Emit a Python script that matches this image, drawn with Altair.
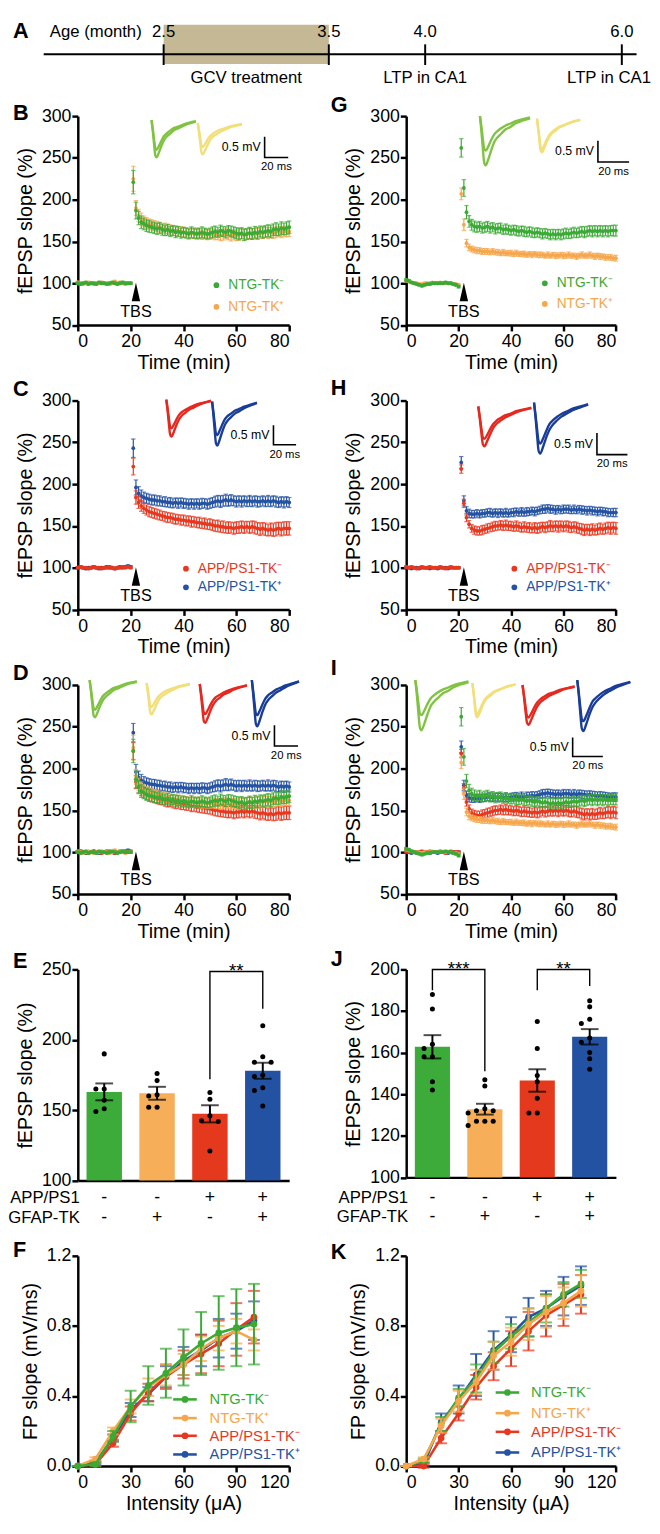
import altair as alt
import pandas as pd

FONT = "Liberation Sans"

GREEN = "#3aaa35"
ORANGE = "#f6a64c"
RED = "#e8371f"
BLUE = "#2453a3"
TR_GREEN = "#80c342"
TR_YELLOW = "#f2df7a"
TR_RED = "#e6281f"
TR_BLUE = "#1a3e98"
BAR_COLORS = ["#3cab3a", "#f6ae58", "#e4391c", "#2352a2"]
TAN = "#c4b994"

GROUPS = ["NTG-TK⁻", "NTG-TK⁺", "APP/PS1-TK⁻", "APP/PS1-TK⁺"]

# ---------------- Panel A : timeline (months) ----------------
A_MONTHS = [2.5, 3.5, 4.0, 6.0]
A_MONTH_LABELS = ["2.5", "3.5", "4.0", "6.0"]
A_GCV = [2.5, 3.5]
A_LINE = [2.05, 6.08]
A_EVENT_MONTHS = [3.0, 4.0, 6.0]
A_EVENT_LABELS = ["GCV treatment", "LTP in CA1", "LTP in CA1"]

# ---------------- LTP time courses (t = 0..80 min) ----------------
LTP_TIME = list(range(0, 81))
TBS_T = [22]
TBS_ARROW_V = [89.5]
TBS_TEXT_V = [66]

# 4 months
G4_BASE = [100, 99, 100, 101, 99, 100, 100, 99, 101, 100, 100, 99, 100, 101, 100, 99, 100, 101, 100, 100, 100]
G4_BASE_SEM = [1.5, 1.4, 1.3, 1.2, 1.3, 1.2, 1.4, 1.3, 1.2, 1.3, 1.2, 1.3, 1.4, 1.2, 1.3, 1.2, 1.3, 1.4, 1.2, 1.3, 1.2]
G4_POST = [221, 187, 178, 173, 171, 169, 168, 167, 166, 165,
           166, 164, 163, 164, 162, 163, 161, 162, 160, 161,
           160, 159, 161, 160, 159, 160, 161, 160, 159, 160,
           161, 162, 161, 163, 162, 161, 163, 162, 161, 160,
           159, 160, 158, 159, 160, 159, 161, 160, 162, 161,
           162, 163, 162, 164, 165, 164, 166, 165, 166, 167]
G4_POST_SEM = [14, 10, 8, 7.5, 7, 7, 7, 6.5, 6.5, 6.5,
               6.5, 6.5, 6, 6.5, 6, 6, 6.5, 6, 6, 6,
               6, 6, 6.5, 6, 6, 6, 6.5, 6, 6, 6,
               6.5, 6.5, 6, 6.5, 6, 6.5, 6, 6.5, 6.5, 6.5,
               7, 6.5, 7, 6.5, 7, 6.5, 7, 7, 6.5, 7,
               7, 7, 7.5, 7, 7.5, 7, 7.5, 7, 7.5, 7.5]

O4_BASE = [101, 100, 99, 100, 101, 100, 99, 100, 100, 101, 100, 100, 99, 100, 102, 100, 101, 100, 99, 100, 100]
O4_BASE_SEM = [1.6, 1.5, 1.4, 1.5, 1.3, 1.4, 1.5, 1.3, 1.4, 1.5, 1.4, 1.3, 1.5, 1.4, 1.6, 1.4, 1.3, 1.5, 1.4, 1.3, 1.4]
O4_POST = [225, 190, 181, 177, 174, 172, 171, 170, 169, 168,
           167, 166, 166, 165, 164, 163, 163, 162, 162, 161,
           161, 160, 160, 159, 160, 159, 158, 159, 158, 158,
           159, 158, 158, 157, 158, 159, 158, 157, 158, 157,
           158, 159, 158, 159, 160, 159, 160, 159, 160, 160,
           161, 160, 161, 160, 161, 162, 161, 162, 162, 162]
O4_POST_SEM = [15, 9, 7.5, 7, 6.5, 6.5, 6, 6, 6, 6,
               6, 5.5, 6, 5.5, 6, 5.5, 6, 5.5, 6, 6,
               5.5, 6, 6, 5.5, 6, 6, 5.5, 6, 6, 5.5,
               6, 6, 5.5, 6, 6.5, 6, 6, 6.5, 6, 6,
               6.5, 6, 6.5, 6, 6.5, 6.5, 6, 6.5, 6, 6.5,
               6, 6.5, 6, 6.5, 6.5, 6, 6.5, 6, 6.5, 6]

R4_BASE = [100, 101, 100, 100, 99, 100, 101, 100, 100, 99, 100, 100, 101, 100, 99, 100, 100, 101, 100, 101, 100]
R4_BASE_SEM = [1.4, 1.3, 1.5, 1.2, 1.3, 1.4, 1.3, 1.2, 1.4, 1.3, 1.2, 1.4, 1.3, 1.5, 1.3, 1.2, 1.4, 1.3, 1.2, 1.4, 1.3]
R4_POST = [221, 184, 178, 174, 171, 169, 167, 166, 165, 164,
           163, 162, 161, 160, 160, 159, 158, 158, 157, 157,
           156, 156, 155, 155, 154, 154, 153, 153, 152, 152,
           151, 150, 150, 149, 149, 148, 148, 148, 147, 148,
           148, 149, 148, 149, 148, 149, 148, 147, 146, 147,
           146, 145, 146, 145, 146, 147, 146, 147, 147, 147]
R4_POST_SEM = [10, 8, 7, 6.5, 6, 6, 6, 6, 6, 6,
               6, 5.5, 6, 6, 5.5, 6, 6, 5.5, 6, 6,
               6, 6, 6.5, 6, 6, 6.5, 6, 6.5, 6, 6.5,
               6.5, 6.5, 7, 6.5, 7, 6.5, 7, 6.5, 7, 7,
               7, 7, 7, 6.5, 7, 7, 7.5, 7, 7.5, 7,
               7.5, 7, 7.5, 7.5, 8, 7.5, 8, 8, 8, 8]

B4_BASE = [100, 101, 100, 99, 100, 100, 101, 100, 99, 100, 100, 101, 100, 100, 99, 100, 101, 100, 101, 102, 101]
B4_BASE_SEM = [1.3, 1.4, 1.2, 1.3, 1.4, 1.3, 1.2, 1.4, 1.3, 1.2, 1.3, 1.4, 1.3, 1.2, 1.3, 1.4, 1.3, 1.2, 1.3, 1.5, 1.4]
B4_POST = [243, 196, 189, 186, 184, 183, 182, 181, 181, 180,
           180, 179, 179, 178, 178, 177, 178, 177, 178, 177,
           177, 176, 177, 176, 177, 176, 177, 177, 176, 177,
           178, 179, 180, 179, 180, 181, 180, 181, 180, 179,
           180, 179, 180, 179, 180, 179, 180, 179, 179, 180,
           179, 180, 179, 180, 179, 178, 179, 178, 179, 178]
B4_POST_SEM = [11, 9, 8, 7, 6.5, 6, 6, 6, 6, 6,
               6, 5.5, 6, 5.5, 6, 5.5, 5.5, 6, 5.5, 6,
               5.5, 6, 5.5, 6, 5.5, 6, 6, 5.5, 6, 6,
               6, 6.5, 6.5, 7, 6.5, 7, 6.5, 6.5, 6, 6.5,
               6, 6.5, 6, 6, 6.5, 6, 6, 6.5, 6, 6,
               6, 6.5, 6, 6, 6.5, 6, 6, 6.5, 6, 6]

# 6 months
G6_BASE = [104, 103, 101, 100, 99, 98, 97, 98, 99, 99, 100, 100, 100, 100, 100, 101, 100, 100, 99, 98, 96]
G6_BASE_SEM = [1.5, 1.4, 1.3, 1.3, 1.2, 1.3, 1.4, 1.3, 1.2, 1.3, 1.2, 1.3, 1.2, 1.3, 1.2, 1.3, 1.2, 1.3, 1.4, 1.5, 1.6]
G6_POST = [262, 214, 185, 174, 170, 168, 167, 168, 166, 167,
           168, 166, 167, 165, 166, 166, 164, 165, 164, 163,
           164, 163, 162, 163, 162, 161, 162, 161, 160, 161,
           160, 159, 160, 159, 158, 159, 158, 159, 158, 159,
           160, 159, 160, 161, 160, 161, 162, 161, 162, 163,
           162, 163, 162, 163, 162, 163, 162, 163, 163, 163]
G6_POST_SEM = [11, 10, 8, 7, 6.5, 6.5, 6, 6, 6, 6,
               6, 6, 5.5, 6, 5.5, 6, 5.5, 6, 5.5, 5.5,
               5.5, 6, 5.5, 5.5, 6, 5.5, 5.5, 6, 5.5, 5.5,
               5.5, 6, 5.5, 5.5, 6, 5.5, 6, 5.5, 6, 6,
               6, 5.5, 6, 6, 5.5, 6, 6, 6.5, 6, 6,
               6.5, 6, 6.5, 6, 6.5, 6, 6.5, 6, 6.5, 6.5]

O6_BASE = [103, 102, 101, 100, 100, 99, 99, 100, 100, 100, 101, 100, 100, 101, 100, 100, 100, 100, 99, 99, 98]
O6_BASE_SEM = [1.2, 1.1, 1.0, 1.1, 1.0, 1.1, 1.0, 1.1, 1.0, 1.1, 1.0, 1.1, 1.0, 1.1, 1.0, 1.1, 1.0, 1.1, 1.0, 1.1, 1.2]
O6_POST = [207, 170, 148, 143, 141, 140, 139, 139, 138, 138,
           138, 137, 138, 137, 137, 136, 137, 136, 136, 136,
           135, 136, 135, 135, 135, 134, 135, 134, 135, 134,
           134, 134, 133, 134, 133, 134, 133, 133, 134, 133,
           133, 134, 133, 133, 132, 133, 134, 133, 133, 134,
           133, 132, 133, 132, 132, 131, 131, 131, 130, 130]
O6_POST_SEM = [7, 7, 4.5, 4, 3.5, 3.5, 3.5, 3.5, 3.5, 3.5,
               3.5, 3, 3.5, 3, 3.5, 3, 3.5, 3, 3, 3.5,
               3, 3.5, 3, 3, 3.5, 3, 3, 3.5, 3, 3,
               3.5, 3, 3, 3.5, 3, 3, 3.5, 3, 3, 3.5,
               3, 3.5, 3, 3, 3.5, 3, 3.5, 3, 3, 3.5,
               3, 3.5, 3, 3.5, 3, 3.5, 3, 3.5, 3, 3.5]

R6_BASE = [101, 100, 101, 100, 99, 100, 101, 100, 100, 101, 100, 100, 100, 101, 100, 99, 100, 101, 100, 100, 100]
R6_BASE_SEM = [1.3, 1.2, 1.3, 1.2, 1.3, 1.2, 1.3, 1.2, 1.3, 1.2, 1.3, 1.2, 1.3, 1.2, 1.3, 1.2, 1.3, 1.2, 1.3, 1.2, 1.3]
R6_POST = [218, 177, 160, 152, 147, 145, 144, 144, 145, 146,
           147, 148, 149, 150, 150, 151, 150, 151, 150, 150,
           149, 150, 149, 148, 149, 148, 148, 147, 148, 147,
           148, 149, 148, 149, 150, 149, 150, 149, 150, 149,
           150, 149, 148, 149, 148, 147, 146, 145, 146, 145,
           146, 145, 146, 147, 146, 147, 148, 147, 148, 147]
R6_POST_SEM = [5, 5, 5, 4.5, 4.5, 5, 5, 5, 5.5, 5,
               5.5, 5, 5.5, 5.5, 5, 5.5, 5.5, 6, 5.5, 5.5,
               5.5, 6, 5.5, 5.5, 6, 5.5, 6, 5.5, 6, 6,
               6, 5.5, 6, 6, 6.5, 6, 6, 6.5, 6, 6,
               6, 6.5, 6, 6, 6.5, 6, 6.5, 6.5, 6, 6.5,
               6.5, 6, 6.5, 6.5, 6, 6.5, 6.5, 7, 6.5, 7]

B6_BASE = [100, 100, 99, 100, 100, 99, 100, 100, 100, 99, 100, 100, 99, 100, 100, 100, 99, 100, 100, 100, 100]
B6_BASE_SEM = [1.1, 1.0, 1.1, 1.2, 1.0, 1.1, 1.0, 1.1, 1.2, 1.0, 1.1, 1.0, 1.1, 1.0, 1.2, 1.1, 1.0, 1.1, 1.0, 1.1, 1.0]
B6_POST = [226, 180, 168, 165, 164, 164, 165, 164, 165, 165,
           166, 166, 165, 166, 165, 166, 165, 166, 165, 166,
           166, 167, 166, 167, 166, 167, 167, 168, 167, 168,
           169, 170, 170, 171, 170, 170, 169, 170, 169, 170,
           170, 170, 169, 170, 169, 170, 169, 169, 168, 169,
           168, 168, 167, 168, 167, 167, 166, 166, 166, 166]
B6_POST_SEM = [7, 6, 5, 5, 4.5, 4.5, 4.5, 4.5, 4.5, 4.5,
               4.5, 5, 4.5, 4.5, 5, 4.5, 4.5, 5, 4.5, 4.5,
               5, 4.5, 4.5, 5, 4.5, 5, 4.5, 4.5, 5, 4.5,
               4.5, 5, 5, 4.5, 5, 4.5, 5, 4.5, 4.5, 5,
               4.5, 5, 4.5, 5, 4.5, 4.5, 5, 4.5, 5, 4.5,
               5, 4.5, 5, 4.5, 5, 4.5, 5, 4.5, 5, 5]

# ---------------- sample fEPSP traces (ms, mV) ----------------
TRACE_MS = [0, 1, 2, 3, 4, 6, 8, 10, 12, 15, 18, 21, 25, 30, 35]
TR4 = {
    "green": ([0, -0.22, -0.47, -0.68, -0.72, -0.62, -0.49, -0.38, -0.32, -0.25, -0.19, -0.16, -0.11, -0.06, -0.03],
              [0, -0.27, -0.59, -0.86, -0.90, -0.77, -0.61, -0.48, -0.40, -0.32, -0.24, -0.20, -0.14, -0.08, -0.04]),
    "yellow": ([0, -0.17, -0.38, -0.55, -0.58, -0.50, -0.39, -0.31, -0.26, -0.20, -0.16, -0.13, -0.09, -0.05, -0.02],
               [0, -0.23, -0.49, -0.72, -0.76, -0.65, -0.52, -0.40, -0.33, -0.27, -0.21, -0.17, -0.11, -0.07, -0.03]),
    "red": ([0, -0.22, -0.47, -0.69, -0.73, -0.63, -0.50, -0.39, -0.32, -0.26, -0.20, -0.16, -0.11, -0.07, -0.03],
            [0, -0.28, -0.61, -0.89, -0.94, -0.81, -0.64, -0.50, -0.41, -0.33, -0.25, -0.21, -0.14, -0.08, -0.04]),
    "blue": ([0, -0.26, -0.55, -0.81, -0.85, -0.73, -0.58, -0.45, -0.37, -0.30, -0.23, -0.19, -0.13, -0.08, -0.03],
             [0, -0.34, -0.73, -1.06, -1.12, -0.96, -0.76, -0.59, -0.49, -0.39, -0.30, -0.25, -0.17, -0.10, -0.04]),
}
TR6 = {
    "green": ([0, -0.24, -0.53, -0.77, -0.81, -0.70, -0.55, -0.43, -0.36, -0.28, -0.22, -0.18, -0.12, -0.07, -0.03],
              [0, -0.35, -0.75, -1.10, -1.16, -1.00, -0.79, -0.61, -0.51, -0.41, -0.31, -0.26, -0.17, -0.10, -0.05]),
    "yellow": ([0, -0.22, -0.47, -0.68, -0.72, -0.62, -0.49, -0.38, -0.32, -0.25, -0.19, -0.16, -0.11, -0.06, -0.03],
               [0, -0.24, -0.51, -0.75, -0.79, -0.68, -0.54, -0.42, -0.35, -0.28, -0.21, -0.17, -0.12, -0.07, -0.03]),
    "red": ([0, -0.23, -0.49, -0.71, -0.75, -0.65, -0.51, -0.40, -0.33, -0.26, -0.20, -0.17, -0.11, -0.07, -0.03],
            [0, -0.28, -0.60, -0.87, -0.92, -0.79, -0.63, -0.49, -0.40, -0.32, -0.25, -0.20, -0.14, -0.08, -0.04]),
    "blue": ([0, -0.29, -0.62, -0.90, -0.95, -0.82, -0.65, -0.50, -0.42, -0.33, -0.26, -0.21, -0.14, -0.09, -0.04],
             [0, -0.35, -0.77, -1.12, -1.18, -1.01, -0.80, -0.63, -0.52, -0.41, -0.32, -0.26, -0.18, -0.11, -0.05]),
}
TRACE_COLORS = {"green": TR_GREEN, "yellow": TR_YELLOW, "red": TR_RED, "blue": TR_BLUE}
SCALEBAR_MS = [0, 0, 20]
SCALEBAR_MV = [0.5, 0, 0]

# ---------------- bar charts: LTP magnitude (%) ----------------
E_MEANS = [163, 162, 147.4, 178]
E_SEMS = [6.0, 4.6, 6.1, 5.7]
E_POINTS = [[190, 165, 165, 157, 151, 149],
            [176, 171, 161, 160, 152, 152],
            [162.5, 157.7, 146, 142, 142.5, 121],
            [210, 188, 184, 184, 175, 174, 166, 164, 153]]
J_MEANS = [162.8, 132.8, 146.6, 167.6]
J_SEMS = [5.6, 2.6, 5.4, 3.7]
J_POINTS = [[188, 181, 164, 162, 158, 158, 146, 142],
            [147, 144, 133, 132, 132, 131, 127, 127, 127, 125],
            [175, 162, 149, 146, 138, 131, 131],
            [185, 182, 176, 174, 167, 165, 160, 157, 152]]
APP_ROW = ["-", "-", "+", "+"]
GFAP_ROW = ["-", "+", "-", "+"]
# (left group, right group, top, left arm end, right arm end, label)
E_BRACKETS = [(2, 3, 248.5, 172, 222, "**")]
J_BRACKETS = [(0, 1, 200, 190, 151, "***"), (2, 3, 200, 190, 192, "**")]

# ---------------- input-output curves ----------------
INTENSITY = [0, 10, 20, 30, 40, 50, 60, 70, 80, 90, 100]
F_MEAN = {
    "green": [0, 0.01, 0.17, 0.34, 0.46, 0.53, 0.62, 0.70, 0.76, 0.79, 0.81],
    "orange": [0, 0.04, 0.20, 0.34, 0.45, 0.52, 0.58, 0.67, 0.73, 0.77, 0.72],
    "red": [0, 0.01, 0.13, 0.30, 0.42, 0.51, 0.58, 0.64, 0.70, 0.78, 0.85],
    "blue": [0, 0.02, 0.16, 0.32, 0.41, 0.51, 0.60, 0.66, 0.73, 0.77, 0.83],
}
F_SEM = {
    "green": [0, 0.01, 0.03, 0.09, 0.11, 0.14, 0.16, 0.18, 0.21, 0.22, 0.23],
    "orange": [0, 0.01, 0.02, 0.04, 0.05, 0.06, 0.06, 0.07, 0.07, 0.07, 0.06],
    "red": [0, 0.01, 0.02, 0.04, 0.05, 0.07, 0.08, 0.11, 0.13, 0.15, 0.15],
    "blue": [0, 0.01, 0.02, 0.04, 0.04, 0.06, 0.08, 0.09, 0.11, 0.10, 0.11],
}
K_MEAN = {
    "green": [0, 0.03, 0.24, 0.39, 0.50, 0.65, 0.74, 0.82, 0.90, 0.98, 1.04],
    "orange": [0, 0.04, 0.23, 0.37, 0.48, 0.63, 0.71, 0.81, 0.88, 0.93, 1.00],
    "red": [0, 0.00, 0.16, 0.30, 0.45, 0.57, 0.67, 0.77, 0.86, 0.92, 0.98],
    "blue": [0, 0.01, 0.25, 0.38, 0.52, 0.66, 0.75, 0.85, 0.90, 0.97, 1.03],
}
K_SEM = {
    "green": [0, 0.01, 0.04, 0.05, 0.08, 0.06, 0.07, 0.08, 0.08, 0.07, 0.08],
    "orange": [0, 0.01, 0.04, 0.06, 0.07, 0.08, 0.08, 0.09, 0.09, 0.09, 0.09],
    "red": [0, 0.01, 0.03, 0.04, 0.07, 0.08, 0.10, 0.11, 0.12, 0.12, 0.11],
    "blue": [0, 0.01, 0.05, 0.08, 0.12, 0.11, 0.10, 0.11, 0.10, 0.11, 0.11],
}
SERIES_COLORS = {"green": GREEN, "orange": ORANGE, "red": RED, "blue": BLUE}
SERIES_LABEL = {"green": GROUPS[0], "orange": GROUPS[1], "red": GROUPS[2], "blue": GROUPS[3]}

# ======================================================================
ONE = pd.DataFrame({"k": [0]})
W_L, W_R = 215, 213.3
H_LTP = 212.5


def text_mark(s, x, y, size, color="black", align="left", baseline="middle", weight="normal"):
    return alt.Chart(ONE).mark_text(text=s, fontSize=size, color=color, align=align,
                                    baseline=baseline, fontWeight=weight, font=FONT).encode(
        x=alt.value(x), y=alt.value(y))


def letter(s, x, y):
    return text_mark(s, x, y, 22, weight="bold", baseline="alphabetic")


def full_series(base, base_sem, post, post_sem):
    vals = list(base) + list(post)
    sems = list(base_sem) + list(post_sem)
    assert len(vals) == len(LTP_TIME) and len(sems) == len(LTP_TIME)
    return vals, sems


SER = {
    "g4": full_series(G4_BASE, G4_BASE_SEM, G4_POST, G4_POST_SEM) + (GREEN,),
    "o4": full_series(O4_BASE, O4_BASE_SEM, O4_POST, O4_POST_SEM) + (ORANGE,),
    "r4": full_series(R4_BASE, R4_BASE_SEM, R4_POST, R4_POST_SEM) + (RED,),
    "b4": full_series(B4_BASE, B4_BASE_SEM, B4_POST, B4_POST_SEM) + (BLUE,),
    "g6": full_series(G6_BASE, G6_BASE_SEM, G6_POST, G6_POST_SEM) + (GREEN,),
    "o6": full_series(O6_BASE, O6_BASE_SEM, O6_POST, O6_POST_SEM) + (ORANGE,),
    "r6": full_series(R6_BASE, R6_BASE_SEM, R6_POST, R6_POST_SEM) + (RED,),
    "b6": full_series(B6_BASE, B6_BASE_SEM, B6_POST, B6_POST_SEM) + (BLUE,),
}


def trace_layer(pre, post, color, x0, y0, w, k):
    df = pd.DataFrame({"ms": TRACE_MS * 2, "mv": list(pre) + list(post),
                       "sweep": ["pre"] * len(TRACE_MS) + ["post"] * len(TRACE_MS)})
    return alt.Chart(df).mark_line(color=color, strokeWidth=2.4, interpolate="monotone").encode(
        x=alt.X("ms:Q", scale=alt.Scale(domain=[0, 35], range=[x0, x0 + w], nice=False, zero=False), axis=None),
        y=alt.Y("mv:Q", scale=alt.Scale(domain=[0, -1], range=[y0, y0 + k], nice=False, zero=False), axis=None),
        detail="sweep:N")


def scalebar_layers(bx, by, lx, ly):
    df = pd.DataFrame({"ms": SCALEBAR_MS, "mv": SCALEBAR_MV, "o": [0, 1, 2]})
    bar = alt.Chart(df).mark_line(color="black", strokeWidth=1.6).encode(
        x=alt.X("ms:Q", scale=alt.Scale(domain=[0, 20], range=[bx, bx + lx], nice=False, zero=False), axis=None),
        y=alt.Y("mv:Q", scale=alt.Scale(domain=[0, 0.5], range=[by, by - ly], nice=False, zero=False), axis=None),
        order="o:O")
    return [bar,
            text_mark("0.5 mV", bx - 4, by - ly * 0.5, 12.5, align="right"),
            text_mark("20 ms", bx + lx / 2, by + 10, 11.5, align="center")]


def ltp_panel(keys, traces, tr_set, k, sb, legend, let, width):
    xs = alt.Scale(domain=[0, 80], nice=False, zero=False)
    ys = alt.Scale(domain=[50, 300], nice=False, zero=False)
    xax = alt.Axis(values=[0, 20, 40, 60, 80], title="Time (min)", labelPadding=2, titlePadding=2)
    yax = alt.Axis(values=[50, 100, 150, 200, 250, 300], title="fEPSP slope (%)", labelPadding=1, titlePadding=6)
    X = alt.X("t:Q", scale=xs, axis=xax)

    def Y(f):
        return alt.Y(f, scale=ys, axis=yax)

    main = []
    for key in keys:
        vals, sems, color = SER[key]
        df = pd.DataFrame({"t": LTP_TIME, "v": vals,
                           "lo": [v - s for v, s in zip(vals, sems)],
                           "hi": [v + s for v, s in zip(vals, sems)]})
        base = alt.Chart(df)
        main.append(base.mark_rule(color=color, strokeWidth=1.2).encode(x=X, y=Y("lo:Q"), y2="hi:Q"))
        main.append(base.mark_tick(color=color, orient="horizontal", size=4.5, thickness=1.2).encode(x=X, y=Y("lo:Q")))
        main.append(base.mark_tick(color=color, orient="horizontal", size=4.5, thickness=1.2).encode(x=X, y=Y("hi:Q")))
        main.append(base.mark_circle(color=color, size=15, opacity=1).encode(x=X, y=Y("v:Q")))
    main.append(alt.Chart(pd.DataFrame({"t": TBS_T, "v": TBS_ARROW_V})).mark_point(
        shape="M0,-1L0.45,1L-0.45,1Z", filled=True, color="black", size=360, opacity=1, strokeWidth=0).encode(
        x=X, y=Y("v:Q")))
    main.append(alt.Chart(pd.DataFrame({"t": TBS_T, "v": TBS_TEXT_V})).mark_text(
        text="TBS", fontSize=16.5, baseline="middle", color="black").encode(x=X, y=Y("v:Q")))
    layers = [alt.layer(*main)]
    for name, x0, y0, w in traces:
        pre, post = tr_set[name]
        layers.append(trace_layer(pre, post, TRACE_COLORS[name], x0, y0, w, k))
    layers += scalebar_layers(*sb)
    if legend:
        dx, tx, rows, entries = legend
        for (lab, col), yy in zip(entries, rows):
            layers.append(alt.Chart(ONE).mark_circle(size=34, color=col, opacity=1).encode(
                x=alt.value(dx), y=alt.value(yy)))
            layers.append(text_mark(lab, tx, yy, 14, color=col))
    layers.append(letter(*let))
    return alt.layer(*layers).resolve_scale(x="independent", y="independent").properties(
        width=width, height=H_LTP)


def beeswarm(values, ppu, step_px, d_px=8.5, thr=6.0):
    order = sorted(range(len(values)), key=lambda i: -values[i])
    placed = []
    offs = [0.0] * len(values)
    for i in order:
        ox = 0.0
        for kk in [0, -1, 1, -2, 2, -3, 3]:
            ox = kk * d_px
            if all((ox - px) ** 2 + ((values[i] - pv) * ppu) ** 2 >= thr ** 2 for px, pv in placed):
                break
        placed.append((ox, values[i]))
        offs[i] = ox / step_px
    return offs


def bar_panel(means, sems, points, ydom, yticks, brackets, width, height, rows_y, let):
    step = width / 4.0
    ppu = height / (ydom[1] - ydom[0])
    xs = alt.Scale(domain=[0, 4], nice=False, zero=False)
    ys = alt.Scale(domain=ydom, nice=False, zero=False)
    xax = alt.Axis(labels=False, ticks=False, title=None)
    yax = alt.Axis(values=yticks, title="fEPSP slope (%)", labelPadding=1, titlePadding=6)

    def X(f):
        return alt.X(f, scale=xs, axis=xax)

    def Y(f):
        return alt.Y(f, scale=ys, axis=yax)

    centers = [i + 0.5 for i in range(4)]
    bdf = pd.DataFrame({"g": GROUPS, "x1": [c - 0.335 for c in centers], "x2": [c + 0.335 for c in centers],
                        "xc": centers, "m": means, "base": [ydom[0]] * 4,
                        "lo": [m - s for m, s in zip(means, sems)], "hi": [m + s for m, s in zip(means, sems)],
                        "app": APP_ROW, "gfap": GFAP_ROW})
    bars = alt.Chart(bdf).mark_rect().encode(
        x=X("x1:Q"), x2="x2:Q", y=Y("m:Q"), y2="base:Q",
        color=alt.Color("g:N", scale=alt.Scale(domain=GROUPS, range=BAR_COLORS), legend=None))
    prow = []
    for gi, vals in enumerate(points):
        offs = beeswarm(vals, ppu, step)
        for v, o in zip(vals, offs):
            prow.append({"x": centers[gi] + o, "v": v})
    pts = alt.Chart(pd.DataFrame(prow)).mark_circle(size=26, color="black", opacity=1).encode(x=X("x:Q"), y=Y("v:Q"))
    err = alt.Chart(bdf).mark_rule(color="black", strokeWidth=2).encode(x=X("xc:Q"), y=Y("lo:Q"), y2="hi:Q")
    cap1 = alt.Chart(bdf).mark_tick(color="black", orient="horizontal", size=18, thickness=2).encode(x=X("xc:Q"), y=Y("lo:Q"))
    cap2 = alt.Chart(bdf).mark_tick(color="black", orient="horizontal", size=18, thickness=2).encode(x=X("xc:Q"), y=Y("hi:Q"))
    layers = [bars, pts, err, cap1, cap2]
    for (gl, gr, top, le, re, lab) in brackets:
        xl, xr = centers[gl], centers[gr]
        pdf = pd.DataFrame({"x": [xl, xl, xr, xr], "v": [le, top, top, re], "o": [0, 1, 2, 3]})
        layers.append(alt.Chart(pdf).mark_line(color="black", strokeWidth=1.4).encode(
            x=X("x:Q"), y=Y("v:Q"), order="o:O"))
        layers.append(alt.Chart(pd.DataFrame({"x": [(xl + xr) / 2], "v": [top]})).mark_text(
            text=lab, fontSize=19, baseline="alphabetic", dy=6, color="black").encode(x=X("x:Q"), y=Y("v:Q")))
    layers.append(alt.Chart(bdf).mark_text(fontSize=18, color="black", baseline="middle").encode(
        x=X("xc:Q"), y=alt.value(rows_y[0]), text="app:N"))
    layers.append(alt.Chart(bdf).mark_text(fontSize=18, color="black", baseline="middle").encode(
        x=X("xc:Q"), y=alt.value(rows_y[1]), text="gfap:N"))
    layers.append(text_mark("APP/PS1", 2, rows_y[0], 17, align="right"))
    layers.append(text_mark("GFAP-TK", 2, rows_y[1], 17, align="right"))
    layers.append(letter(*let))
    return alt.layer(*layers).properties(width=width, height=height)


def fp_panel(means, sems, order, legend, let, width, height):
    xs = alt.Scale(domain=[0, 120], nice=False, zero=False)
    ys = alt.Scale(domain=[0, 1.2], nice=False, zero=False)
    xax = alt.Axis(values=[0, 30, 60, 90, 120], title="Intensity (μA)", labelPadding=2, titlePadding=2)
    yax = alt.Axis(values=[0, 0.4, 0.8, 1.2], format=".1f", title="FP slope (mV/ms)", labelPadding=1, titlePadding=6)
    X = alt.X("i:Q", scale=xs, axis=xax)

    def Y(f):
        return alt.Y(f, scale=ys, axis=yax)

    layers = []
    for key in order:
        col = SERIES_COLORS[key]
        m, s = means[key], sems[key]
        df = pd.DataFrame({"i": INTENSITY, "m": m, "lo": [a - b for a, b in zip(m, s)],
                           "hi": [a + b for a, b in zip(m, s)]})
        base = alt.Chart(df)
        layers.append(base.mark_rule(color=col, strokeWidth=2).encode(x=X, y=Y("lo:Q"), y2="hi:Q"))
        layers.append(base.mark_tick(color=col, orient="horizontal", size=12, thickness=2).encode(x=X, y=Y("lo:Q")))
        layers.append(base.mark_tick(color=col, orient="horizontal", size=12, thickness=2).encode(x=X, y=Y("hi:Q")))
        layers.append(base.mark_line(color=col, strokeWidth=2.6).encode(x=X, y=Y("m:Q")))
        layers.append(base.mark_circle(color=col, size=46, opacity=1).encode(x=X, y=Y("m:Q")))
    x1, x2, dx, tx, rows = legend
    for key, yy in zip(["green", "orange", "red", "blue"], rows):
        col = SERIES_COLORS[key]
        layers.append(alt.Chart(ONE).mark_rule(color=col, strokeWidth=2.6).encode(
            x=alt.value(x1), x2=alt.value(x2), y=alt.value(yy)))
        layers.append(alt.Chart(ONE).mark_circle(color=col, size=46, opacity=1).encode(
            x=alt.value(dx), y=alt.value(yy)))
        layers.append(text_mark(SERIES_LABEL[key], tx, yy, 15, color=col))
    layers.append(letter(*let))
    return alt.layer(*layers).properties(width=width, height=height)


# ---------------- Panel A ----------------
xA = alt.Scale(domain=[A_LINE[0], 2.5, 3.5, 4.0, 6.0, A_LINE[1]],
               range=[-34.7, 87.3, 255.3, 353.3, 553.3, 568.3])
a_box = alt.Chart(pd.DataFrame({"m0": [A_GCV[0]], "m1": [A_GCV[1]]})).mark_rect(color=TAN).encode(
    x=alt.X("m0:Q", scale=xA, axis=None), x2="m1:Q", y=alt.value(0), y2=alt.value(40))
a_line = alt.Chart(pd.DataFrame({"m0": [A_LINE[0]], "m1": [A_LINE[1]]})).mark_rule(color="black", strokeWidth=2).encode(
    x=alt.X("m0:Q", scale=xA, axis=None), x2="m1:Q", y=alt.value(30))
a_ticks = alt.Chart(pd.DataFrame({"m": A_MONTHS})).mark_rule(color="black", strokeWidth=2).encode(
    x=alt.X("m:Q", scale=xA, axis=None), y=alt.value(20), y2=alt.value(41))
a_mlabels = alt.Chart(pd.DataFrame({"m": A_MONTHS, "lab": A_MONTH_LABELS})).mark_text(
    fontSize=17, baseline="middle", color="black").encode(
    x=alt.X("m:Q", scale=xA, axis=None), y=alt.value(8), text="lab:N")
a_ev = alt.Chart(pd.DataFrame({"m": A_EVENT_MONTHS[:2], "lab": A_EVENT_LABELS[:2]})).mark_text(
    fontSize=17, baseline="middle", color="black").encode(
    x=alt.X("m:Q", scale=xA, axis=None), y=alt.value(54), text="lab:N")
a_ev_last = alt.Chart(pd.DataFrame({"m": A_EVENT_MONTHS[2:], "lab": A_EVENT_LABELS[2:]})).mark_text(
    fontSize=17, baseline="middle", color="black", dx=-13).encode(
    x=alt.X("m:Q", scale=xA, axis=None), y=alt.value(54), text="lab:N")
panelA = alt.layer(a_box, a_line, a_ticks, a_mlabels, a_ev, a_ev_last,
                   text_mark("Age (month)", 65, 8, 17, align="right"),
                   letter("A", -66, 14)).properties(width=547, height=62)

# ---------------- LTP panels ----------------
NTG_LEG = [(GROUPS[0], GREEN), (GROUPS[1], ORANGE)]
APP_LEG = [(GROUPS[2], RED), (GROUPS[3], BLUE)]

panelB = ltp_panel(["o4", "g4"], [("green", 75, 4, 45), ("yellow", 122, 7, 45)], TR4, 42,
                   (190, 42, 24, 21), (141, 153, [172, 194], NTG_LEG), ("B", -66, 4), W_L)
panelC = ltp_panel(["b4", "r4"], [("red", 90, -1, 45.6), ("blue", 136.6, 1, 45.6)], TR4, 40,
                   (199, 45, 23, 20), (110, 122, [171, 190], APP_LEG), ("C", -66, -5), W_L)
panelD = ltp_panel(["b4", "r4", "o4", "g4"],
                   [("green", 12, -5, 48), ("yellow", 70, -2, 44), ("red", 124, -1, 48), ("blue", 177, -5, 48)],
                   TR4, 42, (200, 62, 24, 21), None, ("D", -66, -5), W_L)
panelG = ltp_panel(["o6", "g6"], [("green", 75, 0, 51), ("yellow", 133, 2.6, 44)], TR6, 43.2,
                   (195, 46.7, 31.7, 21.6), (141, 153, [170, 191], NTG_LEG), ("G", -76.7, -4), W_R)
panelH = ltp_panel(["b6", "r6"], [("red", 73.3, 6, 54), ("blue", 130, 2, 55)], TR6, 44,
                   (194, 55, 31, 22), (110, 122, [171, 190], APP_LEG), ("H", -76.7, -6), W_R)
panelI = ltp_panel(["b6", "r6", "o6", "g6"],
                   [("green", 9.3, -5, 54), ("yellow", 67.3, -2, 44), ("red", 118.3, 0, 53), ("blue", 174, -5, 54)],
                   TR6, 44, (169.3, 72.7, 30.7, 19.4), None, ("I", -76.7, -10), W_R)

panelE = bar_panel(E_MEANS, E_SEMS, E_POINTS, [100, 250], [100, 150, 200, 250], E_BRACKETS,
                   W_L, 214.7, (233, 253), ("E", -66, -1))
panelJ = bar_panel(J_MEANS, J_SEMS, J_POINTS, [100, 200], [100, 120, 140, 160, 180, 200], J_BRACKETS,
                   W_R, 211.5, (232.3, 252.3), ("J", -76.7, -3))

panelF = fp_panel(F_MEAN, F_SEM, ["blue", "red", "orange", "green"],
                  (97, 121, 109, 134, [146, 165, 183, 202]), ("F", -66, 1), W_L, 213.8)
panelK = fp_panel(K_MEAN, K_SEM, ["blue", "red", "green", "orange"],
                  (91, 115, 103, 127, [139, 160, 179, 200]), ("K", -76.7, 3), W_R, 213.8)

grid = alt.concat(panelB, panelG, panelC, panelH, panelD, panelI, panelE, panelJ, panelF, panelK,
                  columns=2, spacing=alt.RowColnumber(row=76.3, column=119), bounds="flush")

chart = alt.vconcat(panelA, grid, spacing=31, bounds="flush").properties(padding=0).configure(
    font=FONT).configure_view(stroke=None).configure_axis(
    domainColor="black", domainWidth=2.5, tickColor="black", tickWidth=2.5, tickSize=6,
    labelFont=FONT, labelFontSize=18, labelColor="black",
    titleFont=FONT, titleFontSize=20, titleColor="black", titleFontWeight="normal", grid=False)

chart.save("out.html", embed_options={"renderer": "svg", "actions": False})
